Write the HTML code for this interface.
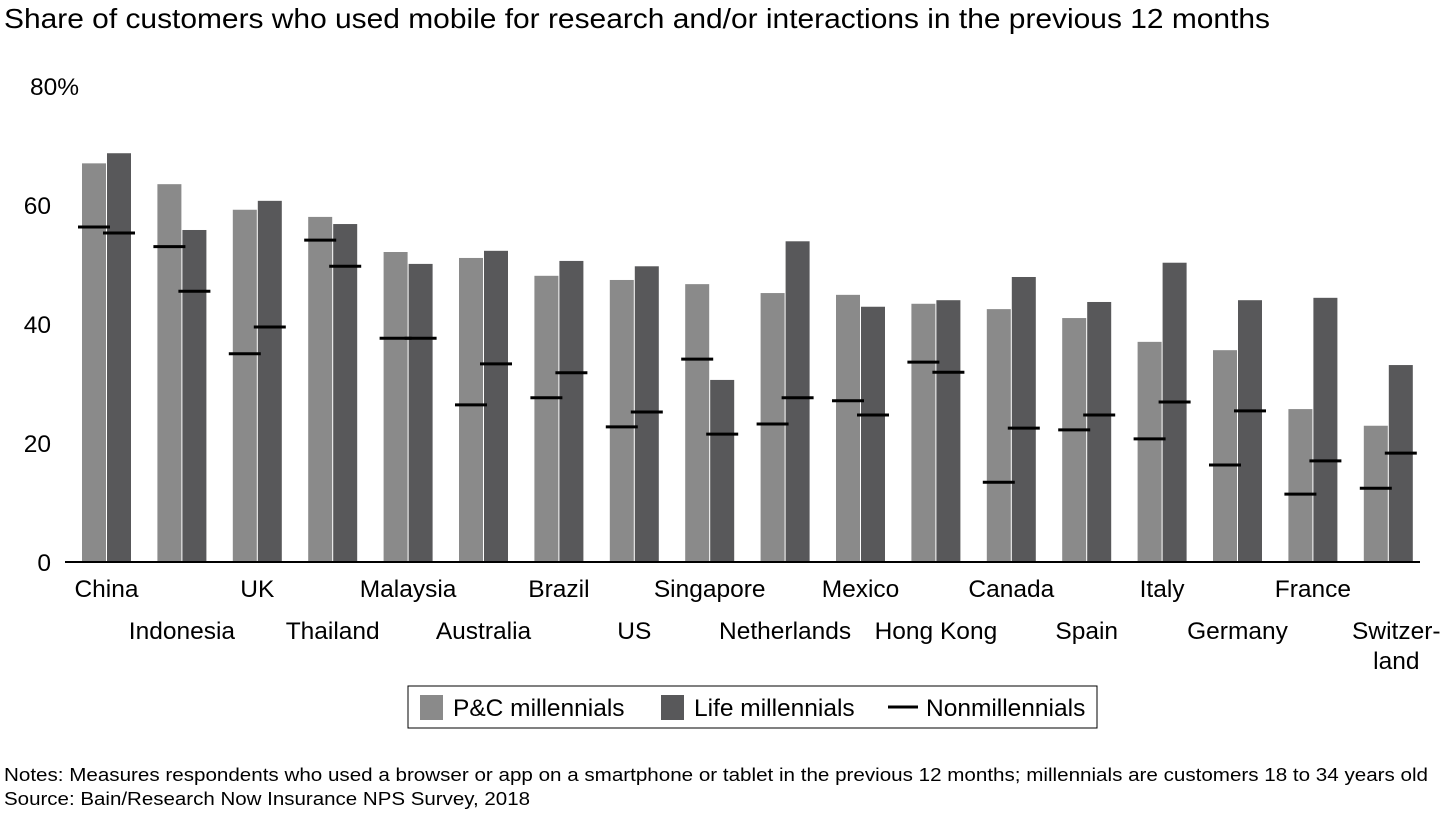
<!DOCTYPE html>
<html><head><meta charset="utf-8"><style>
body{margin:0;background:#fff;width:1440px;height:810px;overflow:hidden;font-family:"Liberation Sans",Arial,sans-serif}
</style></head><body>
<svg id="chart" width="1440" height="810" xmlns="http://www.w3.org/2000/svg" font-family="Liberation Sans, Arial, sans-serif">
<text x="4" y="28" font-size="28" textLength="1266" lengthAdjust="spacingAndGlyphs" fill="#000">Share of customers who used mobile for research and/or interactions in the previous 12 months</text>
<g id="yaxis"></g>
<g id="bars"></g>
<g id="xlabels"></g>
<line x1="65" y1="562" x2="1420" y2="562" stroke="#000" stroke-width="2"/>
<g>
<rect x="408" y="686" width="689" height="42" fill="#fff" stroke="#000" stroke-width="1"/>
<g><rect x="420" y="695" width="23" height="25" fill="#8a8a8a"/><text x="453" y="716" font-size="24.5">P&amp;C millennials</text></g>
<g><rect x="661" y="695" width="23" height="25" fill="#58585a"/><text x="694" y="716" font-size="24.5">Life millennials</text></g>
<g><line x1="888" y1="707" x2="918" y2="707" stroke="#000" stroke-width="3"/><text x="926" y="716" font-size="24.5">Nonmillennials</text></g>
</g>
<text x="4" y="781" font-size="18" textLength="1424" lengthAdjust="spacingAndGlyphs">Notes: Measures respondents who used a browser or app on a smartphone or tablet in the previous 12 months; millennials are customers 18 to 34 years old</text>
<text x="4" y="805" font-size="18" textLength="526" lengthAdjust="spacingAndGlyphs">Source: Bain/Research Now Insurance NPS Survey, 2018</text>
</svg>
<script>
const categories=["China","Indonesia","UK","Thailand","Malaysia","Australia","Brazil","US","Singapore","Netherlands","Mexico","Hong Kong","Canada","Spain","Italy","Germany","France","Switzer-|land"];
const pcValues=[67,63.5,59.2,58,52.1,51.1,48.1,47.4,46.7,45.2,44.9,43.4,42.5,41,37,35.6,25.7,22.9];
const lifeValues=[68.7,55.8,60.7,56.8,50.1,52.3,50.6,49.7,30.6,53.9,42.9,44,47.9,43.7,50.3,44,44.4,33.1];
const nonPcValues=[56.3,53,35,54.1,37.6,26.4,27.6,22.7,34.1,23.2,27.1,33.6,13.4,22.2,20.7,16.3,11.4,12.4];
const nonLifeValues=[55.3,45.5,39.5,49.7,37.6,33.3,31.8,25.2,21.5,27.6,24.7,31.9,22.5,24.7,26.9,25.4,17,18.3];
const yTicks=[0,20,40,60,80];
const NS="http://www.w3.org/2000/svg";
const y=v=>562-v*5.95;
const x=i=>82+i*75.4;
function mk(tag,attrs,parent){const e=document.createElementNS(NS,tag);for(const k in attrs)e.setAttribute(k,attrs[k]);parent.appendChild(e);return e;}
const ya=document.getElementById('yaxis');
yTicks.forEach(t=>{
  const tx=mk('text',{x:t===80?30:51,y:y(t)+9,'font-size':24.5,'text-anchor':t===80?'start':'end'},ya);
  
  
  tx.textContent=t===80?'80%':String(t);
});
const g=document.getElementById('bars');
categories.forEach((c,i)=>{
  const x0=x(i);
  const b1=mk('rect',{x:x0,y:y(pcValues[i]),width:24,height:pcValues[i]*5.95,fill:'#8a8a8a'},g);
  
  
  const b2=mk('rect',{x:x0+25,y:y(lifeValues[i]),width:24,height:lifeValues[i]*5.95,fill:'#58585a'},g);
  
  
  const l1=mk('line',{x1:x0-4,x2:x0+28,y1:y(nonPcValues[i]),y2:y(nonPcValues[i]),stroke:'#000','stroke-width':3},g);
  
  
  const l2=mk('line',{x1:x0+21,x2:x0+53,y1:y(nonLifeValues[i]),y2:y(nonLifeValues[i]),stroke:'#000','stroke-width':3},g);
  
  
  const xl=document.getElementById('xlabels');
  const parts=c.split('|');
  parts.forEach((p,j)=>{
    const t=mk('text',{x:x0+24.5+(parts.length>1?8:0),y:(i%2===0?597:639)+j*30,'font-size':24.5,'text-anchor':'middle'},xl);
    
    
    t.textContent=p;
  });
});
</script>
</body></html>
